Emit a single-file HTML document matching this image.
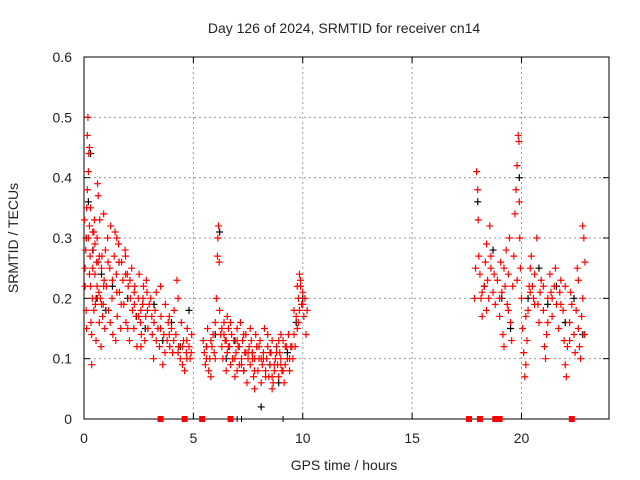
<!DOCTYPE html>
<html><head><meta charset="utf-8"><style>
body{margin:0;background:#fff}
svg{display:block;font-family:"Liberation Sans",sans-serif}
</style></head><body>
<svg id="chart" width="640" height="480" viewBox="0 0 640 480">
<rect width="640" height="480" fill="#fff"/>
<g id="grid"></g>
<g id="axes"></g>
<g id="marks"></g>
<text x="344" y="33" text-anchor="middle" font-size="14" fill="#222">Day 126 of 2024, SRMTID for receiver cn14</text>
<text x="344" y="470" text-anchor="middle" font-size="14" fill="#222">GPS time / hours</text>
<text transform="translate(18,238) rotate(-90)" text-anchor="middle" font-size="14" fill="#222">SRMTID / TECUs</text>
</svg>
<script>
const xTicks=[0,5,10,15,20];
const yTicks=[0,0.1,0.2,0.3,0.4,0.5,0.6];
const yTickLabels=["0","0.1","0.2","0.3","0.4","0.5","0.6"];
const redT=[0.02,0.05,0.08,0.1,0.12,0.15,0.18,0.2,0.22,0.25,0.28,0.3,0.32,0.35,0.38,0.4,0.42,0.45,0.48,0.5,0.52,0.55,0.58,0.6,0.62,0.65,0.68,0.7,0.72,0.75,0.78,0.8,0.82,0.85,0.88,0.9,0.92,0.95,0.98,0.15,0.25,0.35,0.45,0.55,0.65,
1.02,1.08,1.12,1.18,1.22,1.28,1.32,1.38,1.42,1.48,1.52,1.58,1.62,1.68,1.72,1.78,1.82,1.88,1.92,1.98,2.02,2.08,2.12,2.18,2.22,2.28,2.32,2.38,2.42,2.48,2.52,2.58,2.62,2.68,2.72,2.78,2.82,2.88,2.92,2.98,1.5,1.6,1.9,2.3,2.6,
3.05,3.12,3.18,3.25,3.3,3.38,3.45,3.52,3.6,3.65,3.72,3.8,3.85,3.92,4.0,4.05,4.12,4.2,4.25,4.32,4.4,4.45,4.5,4.55,4.6,4.68,4.72,4.8,4.85,4.92,3.5,3.9,4.3,4.7,3.2,
5.45,5.5,5.55,5.6,5.65,5.7,5.75,5.8,5.85,5.9,5.95,6.0,6.05,6.1,6.12,6.15,6.18,6.2,6.25,6.3,
6.35,6.4,6.45,6.5,6.55,6.6,6.65,6.7,6.75,6.8,6.85,6.9,6.95,7.0,7.05,7.1,7.15,7.2,7.25,7.3,7.35,7.4,7.45,7.5,7.55,7.6,7.65,7.7,7.75,7.8,7.85,7.9,7.95,8.0,8.05,8.1,8.15,8.2,8.25,8.3,8.35,8.4,8.45,8.5,8.55,8.6,8.65,8.7,8.75,8.8,8.85,8.9,8.95,9.0,9.05,9.1,9.15,9.2,9.25,9.3,9.35,9.4,9.45,
6.4,6.6,6.8,7.0,7.2,7.4,7.6,7.8,8.0,8.2,8.4,8.6,8.8,9.0,9.2,9.4,
9.55,9.6,9.65,9.7,9.75,9.8,9.85,9.9,9.95,10.0,10.05,10.1,10.15,10.2,9.9,9.85,
17.85,17.9,17.95,18.0,18.02,18.05,18.1,18.15,18.2,18.3,18.35,18.4,18.45,18.5,18.55,18.6,18.7,18.75,18.8,18.9,19.0,19.05,19.1,19.15,19.2,19.25,19.3,19.35,19.4,19.45,19.5,19.55,19.6,19.65,19.7,19.75,19.8,19.85,19.88,19.9,19.92,19.95,20.0,20.05,20.1,20.15,20.2,20.25,20.3,20.35,20.4,20.45,20.5,20.55,20.6,20.7,20.75,20.8,20.85,20.9,21.0,21.05,21.1,21.15,21.2,21.3,21.35,21.4,21.5,21.55,21.6,21.7,21.75,21.8,21.9,21.95,22.0,22.05,22.1,22.2,22.25,22.3,22.4,22.45,22.5,22.55,22.6,22.65,22.7,22.75,22.8,22.85,22.9,22.88,
0.05,0.1,0.2,0.3,0.4,0.5,0.6,0.7,0.8,0.9,0.12,0.25,
1.1,1.3,1.5,1.7,1.9,2.1,2.3,2.5,2.7,2.9,1.2,1.45,2.0,2.6,2.85,
3.1,3.3,3.5,3.7,3.9,4.1,4.3,4.5,4.7,4.9,
5.6,5.8,6.0,6.3,6.5,6.7,6.9,7.1,7.3,7.5,7.7,7.9,8.1,8.3,8.5,8.7,8.9,9.1,9.3,9.5,6.55,7.0,7.8,8.6,9.0,9.6,9.8,10.0,9.75,
18.2,18.6,19.0,19.4,19.8,20.2,20.6,21.0,21.4,21.8,22.2,22.6,18.4,19.2,20.4,21.2,22.0,22.8];
const redV=[0.33,0.22,0.28,0.3,0.35,0.47,0.5,0.41,0.44,0.45,0.27,0.22,0.16,0.09,0.2,0.25,0.28,0.18,0.33,0.24,0.19,0.13,0.26,0.3,0.39,0.37,0.21,0.16,0.33,0.2,0.12,0.25,0.27,0.17,0.19,0.34,0.23,0.15,0.28,0.38,0.32,0.14,0.31,0.2,0.26,
0.22,0.3,0.18,0.25,0.32,0.2,0.14,0.27,0.31,0.24,0.17,0.29,0.21,0.15,0.26,0.23,0.19,0.28,0.16,0.24,0.22,0.13,0.2,0.25,0.18,0.15,0.22,0.17,0.12,0.2,0.24,0.16,0.14,0.19,0.22,0.13,0.17,0.21,0.15,0.19,0.3,0.26,0.24,0.21,0.18,
0.2,0.14,0.1,0.18,0.21,0.15,0.12,0.17,0.09,0.14,0.19,0.13,0.16,0.12,0.15,0.11,0.18,0.14,0.23,0.12,0.1,0.16,0.09,0.13,0.08,0.11,0.15,0.12,0.1,0.14,0.22,0.17,0.2,0.13,0.16,
0.13,0.11,0.09,0.12,0.15,0.08,0.1,0.13,0.12,0.14,0.11,0.16,0.2,0.27,0.3,0.32,0.26,0.18,0.14,0.12,
0.1,0.16,0.13,0.08,0.11,0.15,0.12,0.09,0.14,0.1,0.13,0.07,0.11,0.15,0.12,0.09,0.16,0.1,0.13,0.08,0.11,0.14,0.06,0.1,0.12,0.09,0.13,0.11,0.07,0.1,0.14,0.12,0.08,0.1,0.13,0.06,0.09,0.11,0.15,0.08,0.1,0.12,0.07,0.09,0.11,0.13,0.06,0.08,0.1,0.12,0.09,0.07,0.11,0.1,0.08,0.13,0.06,0.09,0.12,0.1,0.14,0.08,0.12,
0.14,0.12,0.1,0.13,0.09,0.11,0.15,0.08,0.12,0.1,0.14,0.07,0.11,0.09,0.12,0.1,
0.1,0.14,0.12,0.17,0.15,0.2,0.24,0.22,0.19,0.21,0.17,0.2,0.14,0.18,0.23,0.18,
0.2,0.25,0.41,0.38,0.33,0.27,0.24,0.2,0.17,0.22,0.26,0.29,0.23,0.2,0.32,0.27,0.21,0.24,0.19,0.23,0.17,0.26,0.21,0.14,0.12,0.22,0.28,0.19,0.24,0.3,0.16,0.13,0.22,0.27,0.34,0.38,0.42,0.47,0.46,0.36,0.3,0.25,0.2,0.15,0.11,0.07,0.09,0.13,0.18,0.22,0.25,0.27,0.22,0.2,0.24,0.3,0.19,0.16,0.21,0.23,0.18,0.12,0.1,0.14,0.2,0.24,0.21,0.17,0.22,0.25,0.19,0.15,0.21,0.23,0.18,0.13,0.09,0.07,0.12,0.16,0.21,0.19,0.14,0.11,0.18,0.25,0.23,0.12,0.1,0.17,0.32,0.3,0.26,0.14,
0.25,0.18,0.3,0.35,0.31,0.29,0.22,0.27,0.19,0.22,0.15,0.24,
0.26,0.23,0.21,0.19,0.27,0.23,0.19,0.17,0.2,0.18,0.16,0.13,0.15,0.12,0.23,
0.17,0.13,0.15,0.11,0.14,0.13,0.11,0.12,0.1,0.11,
0.1,0.07,0.1,0.15,0.13,0.16,0.1,0.12,0.14,0.11,0.1,0.12,0.1,0.07,0.11,0.09,0.13,0.08,0.1,0.12,0.17,0.08,0.05,0.05,0.14,0.18,0.16,0.19,0.22,
0.21,0.25,0.2,0.18,0.23,0.17,0.19,0.22,0.2,0.19,0.13,0.15,0.18,0.25,0.21,0.16,0.22,0.2];
const blackT=[0.1,0.2,0.3,0.4,0.6,0.8,1.0,1.3,1.6,2.0,2.4,2.8,3.2,3.6,4.0,4.4,4.8,5.6,6.0,6.2,6.5,6.9,7.3,7.7,8.1,8.5,8.9,9.3,9.7,10.0,18.0,18.3,18.7,19.1,19.5,19.9,20.3,20.8,21.2,21.6,22.0,22.4,22.8];
const blackV=[0.3,0.36,0.44,0.28,0.2,0.24,0.18,0.22,0.26,0.2,0.17,0.15,0.19,0.13,0.16,0.12,0.18,0.12,0.14,0.31,0.1,0.13,0.08,0.11,0.02,0.09,0.06,0.11,0.16,0.2,0.36,0.22,0.28,0.2,0.15,0.4,0.2,0.25,0.19,0.22,0.16,0.2,0.14];
const gapRedT=[3.5,4.6,5.4,6.7,17.6,18.1,18.8,19.0,22.3];
const gapBlackT=[7.0,7.2,9.1,19.1];

const L=84,R=609,T=57,B=419,XMAX=24,YMAX=0.6;
const xs=t=>L+t/XMAX*(R-L);
const ys=v=>B-v/YMAX*(B-T);
const NS='http://www.w3.org/2000/svg';
function mk(tag,attrs,parent){const e=document.createElementNS(NS,tag);for(const k in attrs)e.setAttribute(k,attrs[k]);parent.appendChild(e);return e;}
const grid=document.getElementById('grid'),axes=document.getElementById('axes'),marks=document.getElementById('marks');
yTicks.forEach((v,i)=>{
  const y=ys(v);
  if(i>0&&i<yTicks.length-1){const g=mk('line',{x1:L,x2:R,y1:y,y2:y,stroke:'#999','stroke-dasharray':'2,3'},grid);
  
  }
  mk('line',{x1:L,x2:L+6,y1:y,y2:y,stroke:'#000'},axes);
  mk('line',{x1:R-6,x2:R,y1:y,y2:y,stroke:'#000'},axes);
  const t=mk('text',{x:L-12,y:y+5,'text-anchor':'end','font-size':14,fill:'#222'},axes);
  t.textContent=yTickLabels[i];
  
  
});
xTicks.forEach(v=>{
  const x=xs(v);
  if(v>0){const g=mk('line',{x1:x,x2:x,y1:T,y2:B,stroke:'#999','stroke-dasharray':'2,3'},grid);
  
  }
  mk('line',{x1:x,x2:x,y1:B-6,y2:B,stroke:'#000'},axes);
  mk('line',{x1:x,x2:x,y1:T,y2:T+6,stroke:'#000'},axes);
  const t=mk('text',{x:x,y:B+24,'text-anchor':'middle','font-size':14,fill:'#222'},axes);
  t.textContent=String(v);
  
  
});
const border=mk('rect',{x:L,y:T,width:R-L,height:B-T,fill:'none',stroke:'#000'},axes);


function plus(t,v,c,name){
  const x=xs(t),y=ys(v);
  const p=mk('path',{d:`M${x-3.5},${y}H${x+3.5}M${x},${y-3.5}V${y+3.5}`,stroke:c,'stroke-width':1.2,fill:'none'},marks);
  
  
}
blackT.forEach((t,i)=>plus(t,blackV[i],'#000','black-point'));
redT.forEach((t,i)=>plus(t,redV[i],'#f00','red-point'));
gapBlackT.forEach(t=>{
  const l=mk('line',{x1:xs(t),x2:xs(t),y1:B-3,y2:B+3,stroke:'#000'},marks);
  
  
});
gapRedT.forEach(t=>{
  const r=mk('rect',{x:xs(t)-3,y:B-3,width:6,height:6,fill:'#f00'},marks);
  
  
});
</script>
</body></html>
